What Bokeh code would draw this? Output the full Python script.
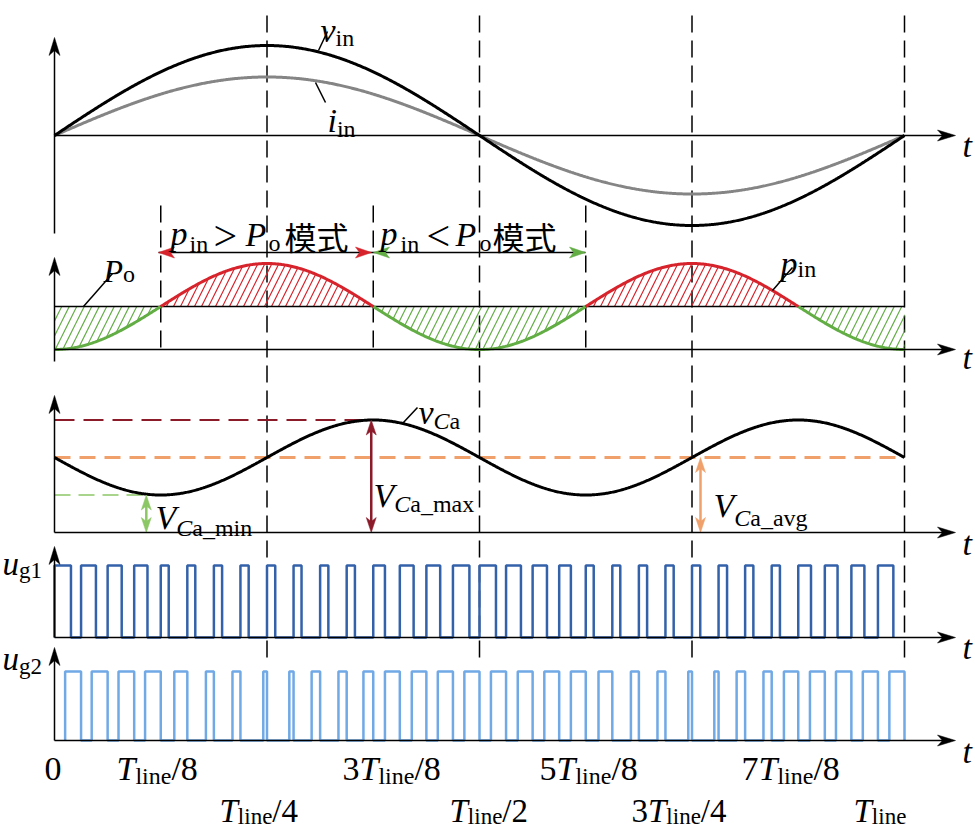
import numpy as np
from bokeh.plotting import figure
from bokeh.models import Range1d
from bokeh.embed import file_html
from bokeh.resources import INLINE
from bokeh.core.properties import value

# ---------------- data (normalised waveform parameters) ----------------
n_switch = 32                      # switching periods per line period
vin_amp = 1.0                      # input voltage amplitude
iin_amp = 0.65                     # input current amplitude
po_level = 1.0                     # output power Po
pin_peak = 2.0                     # peak of input power
vca_avg = 1.0                      # capacitor voltage average
vca_ripple = 0.5                   # capacitor voltage ripple amplitude
ug1_duty = [62, 56, 53, 50, 30, 30, 31, 31, 31, 30, 31, 31, 44, 52, 52, 62,
            62, 56, 54, 44, 30, 30, 31, 31, 31, 32, 31, 31, 48, 48, 49, 58]
ug2_duty = [60, 60, 59, 59, 49, 30, 30, 14, 16, 32, 31, 37, 56, 55, 57, 57,
            57, 56, 56, 56, 52, 30, 30, 14, 16, 32, 31, 54, 56, 58, 57, 57]
long_marks = [0.25, 0.5, 0.75, 1.0]
short_marks = [0.125, 0.375, 0.625]
pin_high_spans = [(0.125, 0.375), (0.625, 0.875)]
pin_low_spans = [(0.0, 0.125), (0.375, 0.625), (0.875, 1.0)]
vca_min_mark = 0.108
vca_max_mark = 0.375
vca_avg_mark = 0.76
row1_coef = ["0", "", "3", "5", "7"]
row1_den = [None, "8", "8", "8", "8"]
row2_coef = ["", "", "3", ""]
row2_den = ["4", "2", "4", None]

# ---------------- layout ----------------
W, H = 975, 834
X0, TPX = 54.0, 850.0
SERIF = "Liberation Serif"
CJK = "Noto Sans CJK SC"
RED = "#d7232b"
GREEN = "#62ad44"
DRED = "#8c1b2a"
ORANGE = "#f0a06a"
LGREEN = "#8cc765"
GRAY = "#858585"
BLUE1 = "#3462aa"
BLUE2 = "#70a9e6"


def tx(px):
    return (np.asarray(px, dtype=float) - X0) / TPX


def ty(py):
    return 834.0 - np.asarray(py, dtype=float)


def t_to_px(t):
    return X0 + np.asarray(t, dtype=float) * TPX


PANELS = {
    1: (135.0, 90.0),
    2: (349.0, 43.0),
    3: (532.0, 75.0),
    4: (637.0, 72.0),
    5: (740.0, 69.0),
}


def py_of(panel, v):
    base, sc = PANELS[panel]
    return base - np.asarray(v, dtype=float) * sc


def Yd(panel, v):
    return ty(py_of(panel, v))


p = figure(width=W, height=H, x_range=Range1d(float(tx(0)), float(tx(W))),
           y_range=Range1d(0.0, 834.0), output_backend="svg",
           toolbar_location=None, x_axis_location=None, y_axis_location=None,
           min_border=0)
p.grid.visible = False
p.outline_line_color = None
p.background_fill_color = "white"
p.border_fill_color = "white"


def seg(x0, y0, x1, y1, color="black", width=1.5, dash="solid"):
    p.line([float(tx(x0)), float(tx(x1))], [float(ty(y0)), float(ty(y1))],
           line_color=color, line_width=width, line_dash=dash)


def head(tipx, tipy, dx, dy, length=16.0, width=10.0, notch=4.0, color="black"):
    L = np.hypot(dx, dy)
    ux, uy = dx / L, dy / L
    nx, ny = -uy, ux
    bx, by = tipx - ux * length, tipy - uy * length
    mx, my = tipx - ux * (length - notch), tipy - uy * (length - notch)
    xs = [tipx, bx + nx * width / 2, mx, bx - nx * width / 2]
    ys = [tipy, by + ny * width / 2, my, by - ny * width / 2]
    p.patch(list(tx(xs)), list(ty(ys)), fill_color=color, line_color=color,
            line_width=0.5)


WREG = {'l': .278, 'i': .278, 'n': .5, 'e': .444, '/': .278, '0': .5, '1': .5,
        '2': .5, '3': .5, '4': .5, '5': .5, '7': .5, '8': .5, 'a': .444,
        '_': .5, 'm': .778, 'x': .5, 'v': .5, 'g': .5, 'o': .5}
WIT = {'T': .556, 'v': .444, 'i': .278, 'p': .5, 'P': .611, 'C': .667,
       'V': .611, 'u': .5, 't': .278}


def txt(px, py, s, size, italic=False, font=SERIF, color="black", align="left"):
    p.text(x=[float(tx(px))], y=[float(ty(py))], text=[s], text_font=value(font),
           text_font_size=f"{size}px",
           text_font_style="italic" if italic else "normal",
           text_align=align, text_baseline="alphabetic", text_color=color)


def rich(px, py, parts):
    x = px
    for s, size, it, dy in parts:
        txt(x, py + dy, s, size, it)
        tbl = WIT if it else WREG
        x += sum(tbl.get(c, 0.5) for c in s) * size


# ---------------- curves ----------------
t = np.linspace(0.0, 1.0, 801)
vin = vin_amp * np.sin(2 * np.pi * t)
iin = iin_amp * np.sin(2 * np.pi * t)
vca = vca_avg - vca_ripple * np.sin(4 * np.pi * t)


def pin_of(tt):
    return pin_peak / 2.0 * (1.0 - np.cos(4 * np.pi * tt))


# dashed reference lines
for m in long_marks:
    xp = float(t_to_px(m))
    seg(xp, 15, xp, 663, width=1.5, dash="17 8")
for m in short_marks:
    xp = float(t_to_px(m))
    seg(xp, 205, xp, 350, width=1.5, dash="17 8")

# panel 1 : vin, iin
p.line(t, Yd(1, iin), line_color=GRAY, line_width=3)
p.line(t, Yd(1, vin), line_color="black", line_width=3)

# panel 2 : pin & Po with hatching
for a, b in pin_high_spans:
    tt = np.linspace(a, b, 200)
    p.varea(x=tt, y1=Yd(2, np.full_like(tt, po_level)), y2=Yd(2, pin_of(tt)),
            fill_color=None, hatch_pattern="/", hatch_color=RED,
            hatch_weight=1.2, hatch_scale=14)
for a, b in pin_low_spans:
    tt = np.linspace(a, b, 120)
    p.varea(x=tt, y1=Yd(2, pin_of(tt)), y2=Yd(2, np.full_like(tt, po_level)),
            fill_color=None, hatch_pattern="/", hatch_color=GREEN,
            hatch_weight=1.2, hatch_scale=15)
p.line([0, 1], [float(Yd(2, po_level))] * 2, line_color="black", line_width=1.5)
for a, b in pin_low_spans:
    tt = np.linspace(a, b, 120)
    p.line(tt, Yd(2, pin_of(tt)), line_color=GREEN, line_width=3)
for a, b in pin_high_spans:
    tt = np.linspace(a, b, 200)
    p.line(tt, Yd(2, pin_of(tt)), line_color=RED, line_width=3)

# panel 3 : vCa
vmax_py = float(py_of(3, vca_avg + vca_ripple))
vmin_py = float(py_of(3, vca_avg - vca_ripple))
vavg_py = float(py_of(3, vca_avg))
seg(X0, vmax_py, t_to_px(vca_max_mark), vmax_py, color=DRED, width=2, dash="20 9")
seg(X0, vmin_py, t_to_px(vca_min_mark), vmin_py, color=LGREEN, width=1.3, dash="16 8")
p.line([0, 1], [float(Yd(3, vca_avg))] * 2, line_color=ORANGE, line_width=3,
       line_dash="16 9")
p.line(t, Yd(3, vca), line_color="black", line_width=3)


def dbl_arrow(xp, y_top, y_bot, color, width=2.5):
    seg(xp, y_top + 8, xp, y_bot - 8, color=color, width=width)
    head(xp, y_top, 0, -1, length=15, width=10, notch=4, color=color)
    head(xp, y_bot, 0, 1, length=15, width=10, notch=4, color=color)


base3 = PANELS[3][0]
dbl_arrow(float(t_to_px(vca_min_mark)), vmin_py, base3, LGREEN)
dbl_arrow(float(t_to_px(vca_max_mark)) - 2, vmax_py, base3, DRED)
dbl_arrow(float(t_to_px(vca_avg_mark)), vavg_py, base3, ORANGE)

# panels 4/5 : gate signals
Ts = 1.0 / n_switch
xs1, ys1 = [], []
for k, d in enumerate(ug1_duty):
    s = k * Ts
    e = s + d / 100.0 * Ts
    xs1 += [s, s, e, e]
    ys1 += [0, 1, 1, 0]
p.line(xs1, Yd(4, ys1), line_color=BLUE1, line_width=2.5)
xs2, ys2 = [], []
for k, d in enumerate(ug2_duty):
    e = (k + 1) * Ts
    s = e - d / 100.0 * Ts
    xs2 += [s, s, e, e]
    ys2 += [0, 1, 1, 0]
p.line(xs2, Yd(5, ys2), line_color=BLUE2, line_width=2.5)

# axes with arrows
AX_END = 955.0
yaxis_spans = {1: (37, 233), 2: (257, 361), 3: (395, 532), 4: (546, 637), 5: (647, 740)}
for k, (base, sc) in PANELS.items():
    seg(X0, base, AX_END - 8, base, width=1.5)
    head(AX_END, base, 1, 0, length=18, width=11, notch=5)
    top, bot = yaxis_spans[k]
    seg(X0, bot, X0, top + 8, width=1.5)
    head(X0, top, 0, -1, length=18, width=11, notch=5)

# mode arrows
ya = 252
seg(158, ya, 585, ya, width=1.5)
head(158, ya, -1, 0, length=16, width=11, notch=4, color=RED)
head(371, ya, 1, 0, length=16, width=11, notch=4, color=RED)
head(373, ya, -1, 0, length=16, width=11, notch=4, color=GREEN)
head(585, ya, 1, 0, length=16, width=11, notch=4, color=GREEN)

# leader lines
seg(318, 50, 327, 31, width=1.5)
seg(315, 82, 325, 102, width=1.5)
seg(83, 306, 112, 273, width=1.5)
seg(772, 290, 792, 267, width=1.5)
seg(402, 423, 417, 407, width=1.5)

# ---------------- texts ----------------
M, S = 34, 24
rich(320, 30, [("v", M, True, 0), ("in", S, False, 7)])
rich(327, 120, [("i", M, True, 0), ("in", S, False, 8)])
rich(103, 270, [("P", 32, True, 0), ("o", S, False, 3)])
rich(780, 263, [("p", M, True, 0), ("in", S, False, 5)])

# mode labels
txt(170, 233, "p", M, True)
txt(189, 243, "in", S)
txt(213, 235, ">", 42)
txt(245, 234, "P", M, True)
txt(268, 242, "o", S)
txt(284, 235, "模式", 32, font=CJK)
txt(380, 233, "p", M, True)
txt(400, 243, "in", S)
txt(426, 235, "<", 42)
txt(455, 234, "P", M, True)
txt(479, 242, "o", S)
txt(492, 235, "模式", 32, font=CJK)

# capacitor labels
rich(418, 412, [("v", M, True, 0), ("C", S, True, 8), ("a", S, False, 8)])
rich(373, 495, [("V", M, True, 0), ("C", S, True, 8), ("a_max", S, False, 8)])
rich(155, 517, [("V", M, True, 0), ("C", S, True, 10), ("a_min", S, False, 10)])
rich(713, 505, [("V", M, True, 0), ("C", S, True, 12), ("a_avg", S, False, 12)])

# gate labels
rich(2, 563, [("u", 33, True, 0), ("g1", 23, False, 7)])
rich(2, 658, [("u", 33, True, 0), ("g2", 23, False, 8)])

# t labels
for b in [145, 357, 543, 647, 751]:
    txt(962, b, "t", M, True)

# time tick labels
row1_left = [44, 116, 342, 539, 741]
row2_left = [219, 449, 631, 853]


def tick_parts(coef, den, size=M, sub=S, dy=7):
    parts = []
    if coef == "0":
        return [("0", size, False, 0)]
    if coef:
        parts.append((coef, size, False, 0))
    parts.append(("T", size, True, 0))
    parts.append(("line", sub, False, dy))
    if den:
        parts.append(("/" + den, size, False, 0))
    return parts


for c, d, lx in zip(row1_coef, row1_den, row1_left):
    rich(lx, 768, tick_parts(c, d))
for c, d, lx in zip(row2_coef, row2_den, row2_left):
    rich(lx, 810, tick_parts(c, d, size=33, sub=23, dy=6))

open("out.html", "w").write(file_html(p, INLINE))
